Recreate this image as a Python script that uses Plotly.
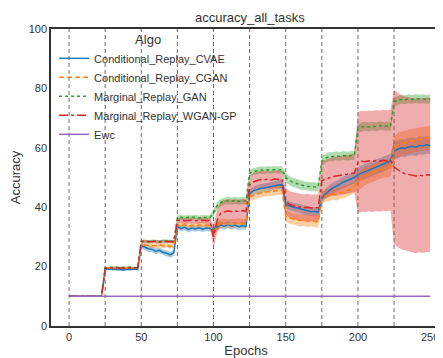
import plotly.graph_objects as go

# epochs sampled every 2.5 (10 samples per task, task length 25)
epochs = [i * 2.5 for i in range(101)]
task_len = 25
tasks = list(range(10))

cvae = [10]*10 + \
    [19.0, 19.2, 19.0, 19.1, 19.0, 18.9, 19.1, 19.0, 19.2, 19.0] + \
    [27.0, 26.5, 26.0, 25.8, 25.2, 25.5, 24.8, 24.5, 24.0, 24.6] + \
    [33.5, 32.8, 33.2, 32.5, 33.0, 32.7, 33.1, 32.6, 33.0, 32.8] + \
    [32.5, 33.5, 34.0, 33.5, 34.2, 33.6, 34.0, 33.4, 33.8, 33.5] + \
    [44.5, 45.5, 46.0, 46.3, 46.5, 46.8, 47.0, 47.2, 47.5, 47.6] + \
    [41.0, 40.5, 40.0, 39.8, 39.5, 39.0, 38.8, 38.5, 38.6, 38.3] + \
    [43.0, 44.5, 45.5, 46.5, 47.0, 47.8, 48.5, 49.0, 49.5, 50.0] + \
    [51.0, 51.5, 52.0, 52.5, 53.0, 53.5, 54.0, 54.5, 55.0, 55.5] + \
    [59.0, 59.5, 60.0, 59.8, 60.3, 60.5, 60.2, 60.8, 60.6, 61.0, 60.8]

cgan = [10]*10 + \
    [19.3, 19.5, 19.4, 19.6, 19.5, 19.4, 19.5, 19.6, 19.5, 19.4] + \
    [27.5, 27.3, 27.2, 27.0, 27.1, 27.3, 27.0, 27.2, 26.8, 27.0] + \
    [34.0, 33.8, 34.2, 33.7, 34.0, 33.6, 34.1, 33.9, 34.0, 33.8] + \
    [31.0, 33.5, 34.5, 34.8, 34.3, 34.6, 34.5, 34.9, 34.4, 34.7] + \
    [43.5, 44.0, 44.5, 44.8, 45.0, 45.2, 45.4, 45.5, 45.6, 45.8] + \
    [37.0, 36.5, 36.0, 35.8, 35.5, 35.6, 35.3, 35.5, 35.2, 35.0] + \
    [43.0, 43.8, 44.0, 44.5, 44.2, 44.8, 45.0, 45.5, 46.0, 47.0] + \
    [48.5, 49.5, 50.5, 51.0, 51.5, 52.0, 52.5, 53.0, 53.0, 53.5] + \
    [60.0, 61.0, 61.5, 61.8, 62.0, 62.3, 62.5, 62.8, 63.0, 63.2, 63.5]

gan = [10]*10 + \
    [19.6, 19.7, 19.6, 19.8, 19.7, 19.6, 19.7, 19.8, 19.7, 19.6] + \
    [28.5, 28.6, 28.4, 28.6, 28.5, 28.4, 28.6, 28.5, 28.4, 28.5] + \
    [36.5, 36.6, 36.4, 36.6, 36.5, 36.7, 36.4, 36.6, 36.5, 36.5] + \
    [38.0, 40.5, 41.5, 42.0, 42.2, 42.0, 42.3, 42.0, 42.2, 42.1] + \
    [51.5, 52.0, 52.3, 52.5, 52.4, 52.6, 52.5, 52.7, 52.5, 52.6] + \
    [50.0, 49.0, 48.3, 48.0, 47.5, 47.2, 47.0, 47.0, 46.8, 46.8] + \
    [55.5, 56.5, 57.0, 57.0, 57.3, 57.1, 57.4, 57.2, 57.3, 57.5] + \
    [66.5, 67.0, 67.2, 67.0, 67.3, 67.1, 67.4, 67.2, 67.3, 67.2] + \
    [75.5, 76.0, 76.3, 76.2, 76.5, 76.3, 76.6, 76.4, 76.5, 76.3, 76.5]

wgan = [10]*10 + \
    [19.5, 19.6, 19.5, 19.6, 19.5, 19.6, 19.5, 19.6, 19.5, 19.5] + \
    [28.5, 28.4, 28.5, 28.4, 28.5, 28.3, 28.5, 28.4, 28.5, 28.4] + \
    [35.5, 35.6, 35.4, 35.5, 35.6, 35.4, 35.5, 35.6, 35.4, 35.5] + \
    [30.0, 35.5, 38.0, 38.5, 38.8, 38.5, 38.7, 38.5, 38.8, 38.6] + \
    [47.5, 48.5, 49.0, 49.3, 49.2, 49.4, 49.2, 49.5, 49.3, 49.4] + \
    [42.0, 41.0, 40.5, 40.2, 40.0, 39.8, 40.0, 39.7, 39.9, 39.8] + \
    [49.0, 49.5, 50.0, 50.3, 50.5, 50.7, 50.8, 51.0, 51.2, 51.5] + \
    [55.0, 55.5, 55.3, 55.6, 55.4, 55.7, 55.5, 55.8, 55.6, 55.9] + \
    [53.5, 52.5, 51.8, 51.3, 51.0, 50.8, 50.5, 50.8, 50.6, 50.9, 50.8]

ewc_x = [0, 250]
ewc = [10, 10]

# per-task spread (half band width)
cvae_sd = [0.2, 0.3, 1.0, 1.0, 1.2, 1.5, 1.5, 1.8, 2.5, 3.0]
cgan_sd = [0.2, 0.3, 0.8, 1.0, 1.5, 1.5, 2.0, 2.0, 3.0, 4.0]
gan_sd = [0.2, 0.3, 0.5, 0.8, 1.2, 1.2, 1.5, 1.5, 1.5, 1.5]
wgan_sd = [0.2, 0.3, 0.5, 1.0, 4.0, 3.0, 4.5, 6.5, 17.0, 26.0]

names = ["Conditional_Replay_CVAE", "Conditional_Replay_CGAN",
         "Marginal_Replay_GAN", "Marginal_Replay_WGAN-GP"]
series = [cvae, cgan, gan, wgan]
sds = [cvae_sd, cgan_sd, gan_sd, wgan_sd]
colors = ["#1f77b4", "#ff7f0e", "#2ca02c", "#d62728"]
fills = ["rgba(31,119,180,0.38)", "rgba(255,127,14,0.38)",
         "rgba(44,160,44,0.38)", "rgba(214,39,40,0.38)"]
dashes = ["solid", "5px,3px", "dot", "dashdot"]

fig = go.Figure()

for s, sd, fc in zip(series, sds, fills):
    up, lo = [], []
    for e, v in zip(epochs, s):
        t = min(int(e // task_len), 9)
        up.append(v + sd[t])
        lo.append(v - sd[t])
    fig.add_trace(go.Scatter(x=epochs + epochs[::-1], y=up + lo[::-1],
                             fill="toself", fillcolor=fc, line=dict(width=0),
                             mode="lines", showlegend=False, hoverinfo="skip"))

for s, n, c, d in zip(series, names, colors, dashes):
    fig.add_trace(go.Scatter(x=epochs, y=s, name=n, mode="lines",
                             line=dict(color=c, width=1.5, dash=d)))

fig.add_trace(go.Scatter(x=ewc_x, y=ewc, name="Ewc", mode="lines",
                         line=dict(color="#9467bd", width=1.5)))

for t in tasks:
    fig.add_shape(type="line", xref="x", yref="paper", x0=t * task_len,
                  x1=t * task_len, y0=0, y1=1, layer="below",
                  line=dict(color="#444444", width=0.8, dash="4px,3px"))

# page body adds an 8px margin: figure drawn 8px right/down of the window origin
fig.update_layout(
    width=435, height=350,
    margin=dict(l=43, r=0, t=21, b=32),
    paper_bgcolor="white", plot_bgcolor="white",
    font=dict(family="Liberation Sans, Arial", size=11, color="#333333"),
    title=dict(text="accuracy_all_tasks", x=0.556, xanchor="center",
               y=0.974, yanchor="middle", font=dict(size=13, color="#333333")),
    showlegend=True,
    legend=dict(x=0.008, y=1.007, xanchor="left", yanchor="top",
                bgcolor="rgba(255,255,255,0)",
                title=dict(text="Algo", side="top center"),
                font=dict(size=11), tracegroupgap=0),
    xaxis=dict(range=[-12.5, 257.5], tickvals=[0, 50, 100, 150, 200, 250],
               showgrid=False, zeroline=False, showline=True, linecolor="#333333",
               linewidth=1.5, mirror=True, ticks="",
               title=dict(text="Epochs", standoff=4)),
    yaxis=dict(range=[0, 100], tickvals=[0, 20, 40, 60, 80, 100],
               showgrid=False, zeroline=False, showline=True, linecolor="#333333",
               linewidth=1.5, mirror=True, ticks="",
               title=dict(text="Accuracy", standoff=6)),
)

fig.write_html("out.html")
